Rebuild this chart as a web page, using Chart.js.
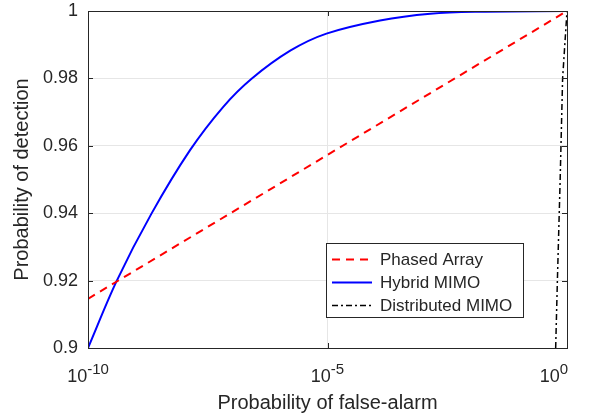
<!DOCTYPE html>
<html>
<head>
<meta charset="utf-8">
<script src="https://cdn.jsdelivr.net/npm/chart.js@4/dist/chart.umd.min.js"></script>
<style>
  body { margin: 0; background: #fff; }
  #wrap { width: 593px; height: 420px; }
</style>
</head>
<body>
<div id="wrap"><canvas id="chart" width="593" height="420"></canvas></div>
<script>
// x tick positions (log axis) and their exponent labels
const xTicks = [1e-10, 1e-5, 1];
const xTickExp = ['-10', '-5', '0'];

// Phased Array (straight line on the log axis)
const phasedX = [1e-10, 1];
const phasedY = [0.9146, 1.0];

// Hybrid MIMO
const hybridX = [1e-10, 4.0e-10, 2.1e-9, 1.35e-8, 6.6e-8, 2.6e-7, 1.7e-6, 9.5e-6, 1.25e-4, 1.4e-3, 1.5e-2, 1];
const hybridY = [0.9, 0.92, 0.9398, 0.9587, 0.9715, 0.9799, 0.9883, 0.9933, 0.9972, 0.9992, 0.9998, 1.0];

// Distributed MIMO
const distX = [0.58, 0.63, 0.72, 0.81, 1];
const distY = [0.9, 0.92, 0.95, 0.98, 1.0];

const textColor = '#262626';
const gridColor = '#e6e6e6';

function pts(xs, ys) {
  return xs.map((x, i) => ({ x: x, y: ys[i] }));
}

const datasets = [
  { label: 'Phased Array', data: pts(phasedX, phasedY), borderColor: '#ff0000', borderWidth: 2, borderDash: [8, 6] },
  { label: 'Hybrid MIMO', data: pts(hybridX, hybridY), borderColor: '#0000ff', borderWidth: 2, tension: 0.35 },
  { label: 'Distributed MIMO', data: pts(distX, distY), borderColor: '#000000', borderWidth: 1.5, borderDash: [6, 3, 2, 3] },
];

// Box, inward tick marks, superscript x labels and legend
const matlabLook = {
  id: 'matlabLook',
  afterDraw(chart) {
    const ctx = chart.ctx;
    const a = chart.chartArea;
    const xs = chart.scales.x;
    const ys = chart.scales.y;
    ctx.save();
    ctx.strokeStyle = textColor;
    ctx.lineWidth = 1;
    ctx.strokeRect(a.left + 0.5, a.top + 0.5, a.right - a.left, a.bottom - a.top);

    // inward tick marks
    ctx.beginPath();
    ys.ticks.forEach(t => {
      const y = Math.round(ys.getPixelForValue(t.value)) + 0.5;
      ctx.moveTo(a.left, y); ctx.lineTo(a.left + 5, y);
      ctx.moveTo(a.right, y); ctx.lineTo(a.right - 5, y);
    });
    xTicks.forEach(v => {
      const x = Math.round(xs.getPixelForValue(v)) + 0.5;
      ctx.moveTo(x, a.bottom); ctx.lineTo(x, a.bottom - 5);
      ctx.moveTo(x, a.top); ctx.lineTo(x, a.top + 5);
    });
    ctx.stroke();

    // x tick labels 10^n
    ctx.fillStyle = textColor;
    ctx.textBaseline = 'alphabetic';
    ctx.textAlign = 'left';
    xTicks.forEach((v, i) => {
      const px = xs.getPixelForValue(v);
      ctx.font = '18px "Liberation Sans", Arial, sans-serif';
      const wBase = ctx.measureText('10').width;
      ctx.font = '15px "Liberation Sans", Arial, sans-serif';
      const wExp = ctx.measureText(xTickExp[i]).width;
      const total = wBase + wExp;
      let start = px - total / 2;
      if (i === xTicks.length - 1) start = px + 1 - total;
      ctx.font = '18px "Liberation Sans", Arial, sans-serif';
      ctx.fillText('10', start, 382);
      ctx.font = '15px "Liberation Sans", Arial, sans-serif';
      ctx.fillText(xTickExp[i], start + wBase, 374);
    });

    // legend
    const lx = 326, ly = 243, lw = 197, lh = 74;
    ctx.fillStyle = '#ffffff';
    ctx.fillRect(lx, ly, lw, lh);
    ctx.strokeStyle = textColor;
    ctx.strokeRect(lx + 0.5, ly + 0.5, lw, lh);
    ctx.font = '17px "Liberation Sans", Arial, sans-serif';
    ctx.textBaseline = 'middle';
    chart.data.datasets.forEach((ds, i) => {
      const y = ly + 16.5 + i * 23;
      ctx.beginPath();
      ctx.strokeStyle = ds.borderColor;
      ctx.lineWidth = ds.borderWidth;
      ctx.setLineDash(ds.borderDash || []);
      ctx.moveTo(lx + 6, y);
      ctx.lineTo(lx + 46, y);
      ctx.stroke();
      ctx.setLineDash([]);
      ctx.fillStyle = textColor;
      ctx.fillText(ds.label, lx + 54, y + 1);
    });
    ctx.restore();
  }
};

new Chart(document.getElementById('chart'), {
  type: 'line',
  data: { datasets: datasets },
  options: {
    responsive: false,
    animation: false,
    layout: { padding: { left: 0, right: 26, top: 11, bottom: 0 } },
    elements: { point: { radius: 0 }, line: { tension: 0 } },
    plugins: { legend: { display: false }, tooltip: { enabled: false } },
    scales: {
      x: {
        type: 'logarithmic',
        min: 1e-10,
        max: 1,
        afterBuildTicks: scale => { scale.ticks = xTicks.map(v => ({ value: v })); },
        afterFit: scale => { scale.height = 72; scale.paddingLeft = 0; scale.paddingRight = 0; },
        ticks: { display: false },
        grid: { color: gridColor, drawTicks: false },
        border: { display: false },
        title: {
          display: true,
          text: 'Probability of false-alarm',
          color: textColor,
          font: { family: '"Liberation Sans", Arial, sans-serif', size: 20 },
          padding: { top: 0, bottom: 5 }
        }
      },
      y: {
        min: 0.9,
        max: 1,
        afterFit: scale => { scale.width = 88; scale.paddingTop = 0; scale.paddingBottom = 0; },
        ticks: {
          stepSize: 0.02,
          padding: 10,
          color: textColor,
          font: { family: '"Liberation Sans", Arial, sans-serif', size: 18 },
          callback: v => String(Number(v.toFixed(2)))
        },
        grid: { color: gridColor, drawTicks: false },
        border: { display: false },
        title: {
          display: true,
          text: 'Probability of detection',
          color: textColor,
          font: { family: '"Liberation Sans", Arial, sans-serif', size: 20 },
          padding: { top: 10, bottom: 0 }
        }
      }
    }
  },
  plugins: [matlabLook]
});
</script>
</body>
</html>
